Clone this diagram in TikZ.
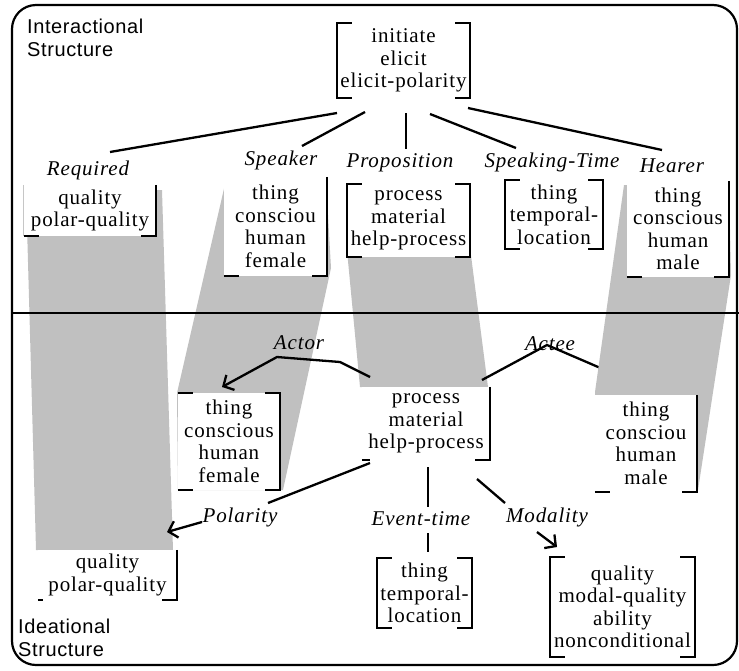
\documentclass[tikz,border=0pt]{standalone}
\usepackage{fontspec}
\setmainfont{Liberation Serif}[LetterSpace=4]
\setsansfont{Liberation Sans}[LetterSpace=3]
\usetikzlibrary{calc,arrows.meta}
\definecolor{bandgray}{RGB}{192,192,192}
\pgfdeclarelayer{lower}
\pgfdeclarelayer{mid}
\pgfdeclarelayer{upper}
\pgfsetlayers{lower,mid,upper,main}

% bracket pieces drawn on the border of a named box
\newcommand\BrLeft[1]{\draw[bracketline] ($(#1.north west)+(15,0)$) -- (#1.north west) -- (#1.south west) -- ($(#1.south west)+(15,0)$);}
\newcommand\BrRight[1]{\draw[bracketline] ($(#1.north east)+(-15,0)$) -- (#1.north east) -- (#1.south east) -- ($(#1.south east)+(-15,0)$);}
\newcommand\BrRightOpen[1]{\draw[bracketline] (#1.north east) -- (#1.south east) -- ($(#1.south east)+(-15,0)$);}
\newcommand\BrFootL[2][15]{\draw[bracketline] (#2.south west) -- ($(#2.south west)+(#1,0)$);}
\newcommand\BrHeadL[1]{\draw[bracketline] (#1.north west) -- ($(#1.north west)+(15,0)$);}

\begin{document}
\begin{tikzpicture}[x=1pt,y=-1pt,
  boxnode/.style={fill=white, inner sep=0pt, align=center, font=\fontsize{21}{22.5}\selectfont},
  rolelabel/.style={inner sep=0pt, text height=14pt, text depth=4pt, font=\fontsize{21}{22}\selectfont\itshape},
  partlabel/.style={inner sep=0pt, align=left, anchor=north west, font=\fontsize{20}{23}\selectfont\sffamily},
  linkline/.style={line width=2.3pt},
  arrowend/.style={-{Straight Barb[length=8pt,width=17pt]}},
  bracketline/.style={line width=2.3pt},
  bandfill/.style={fill=bandgray},
]
\useasboundingbox (0,0) rectangle (739,670);

% outer frame and the split between the two structures
\draw[line width=2.2pt, rounded corners=24pt] (12,5) rectangle (737,665);
\draw[line width=2pt] (12,313) -- (739,313);

% feature boxes
\node[boxnode, minimum width=133pt, minimum height=75pt] (act) at (403.5,60.5) {initiate\\elicit\\elicit-polarity};
\node[boxnode, minimum width=132pt, minimum height=51pt] (req) at (90,210.5) {quality\\polar-quality};
\node[boxnode, minimum width=103pt, minimum height=99pt] (spk) at (275.5,226.5) {thing\\consciou\\human\\female};
\node[boxnode, minimum width=123pt, minimum height=73pt] (prop) at (408.5,220.5) {process\\material\\help-process};
\node[boxnode, minimum width=98pt, minimum height=69pt] (st) at (554,214.5) {thing\\temporal-\\location};
\node[boxnode, minimum width=102pt, minimum height=96pt] (hear) at (678,229) {thing\\conscious\\human\\male};
\node[boxnode, minimum width=102pt, minimum height=97pt] (fem) at (229,441.5) {thing\\conscious\\human\\female};
\node[boxnode, minimum width=128pt, minimum height=73pt] (proc) at (426,423.5) {process\\material\\help-process};
\node[boxnode, minimum width=102pt, minimum height=97pt] (male) at (646,443.5) {thing\\consciou\\human\\male};
\node[boxnode, minimum width=139pt, minimum height=50pt] (qual) at (107.5,575) {quality\\polar-quality};
\node[boxnode, minimum width=95pt, minimum height=70pt] (temp) at (424.5,593) {thing\\temporal-\\location};
\node[boxnode, minimum width=145pt, minimum height=100pt] (modal) at (622.5,607) {quality\\modal-quality\\ability\\nonconditional};

% role labels
\node[rolelabel] (lreq) at (88,170) {Required};
\node[rolelabel] (lspk) at (281,160) {Speaker};
\node[rolelabel] (lprop) at (400,162) {Proposition};
\node[rolelabel] (lst) at (552,162) {Speaking-Time};
\node[rolelabel] (lhear) at (672,167) {Hearer};
\node[rolelabel] (lactor) at (299,344) {Actor};
\node[rolelabel] (lactee) at (550,345) {Actee};
\node[rolelabel] (lpol) at (240,517) {Polarity};
\node[rolelabel] (levt) at (421,520) {Event-time};
\node[rolelabel] (lmod) at (547,517) {Modality};

% structure names
\node[partlabel] (tophead) at (27,19) {Interactional\\Structure};
\node[partlabel] (bothead) at (18,619) {Ideational\\Structure};

% brackets
\BrLeft{act} \BrRight{act}
\draw[gray!45, line width=0.8pt] (req.north west) -- (req.south west);
\BrFootL{req} \BrRightOpen{req}
\BrFootL{spk} \BrRightOpen{spk}
\BrLeft{prop} \BrRight{prop}
\BrLeft{st} \BrRight{st}
\BrFootL{hear} \BrRightOpen{hear}
\BrHeadL{fem} \BrFootL{fem} \BrRight{fem}
\BrFootL[8]{proc} \BrRightOpen{proc}
\BrFootL{male} \BrRightOpen{male}
\BrFootL[5]{qual} \BrRightOpen{qual}
\BrLeft{temp} \BrRight{temp}
\BrLeft{modal} \BrRight{modal}

% shaded correspondences between the two structures
\begin{pgfonlayer}{lower}
\fill[bandfill] (26,190) -- (162,190) -- (173,550) -- (36,550) -- cycle;
\fill[bandfill] (226,180) -- (326,180) -- (331,268) -- (283,490) -- (178,490) -- (177,393) -- cycle;
\fill[bandfill] (346,240) -- (469,240) -- (488,387) -- (360,387) -- cycle;
\end{pgfonlayer}
\begin{pgfonlayer}{upper}
\fill[bandfill] (624,185) -- (729,185) -- (731,275) -- (698,490) -- (596,490) -- (595,392) -- cycle;
\end{pgfonlayer}

% role connectors
\begin{pgfonlayer}{mid}
\draw[linkline] ($(act)+(-66.5,52.5)$) -- ($(lreq)+(22,-18)$);
\draw[linkline] ($(act)+(-38.5,51.5)$) -- ($(lspk)+(21,-14)$);
\draw[linkline] ($(act)+(2.5,52.5)$) -- ($(lprop)+(6,-13)$);
\draw[linkline] ($(act)+(26.5,53.5)$) -- ($(lst)+(-36,-14)$);
\draw[linkline] ($(act)+(64.5,47.5)$) -- ($(lhear)+(-10,-17)$);

\draw[linkline, arrowend] ($(proc)+(-56,-46.5)$) -- ($(lactor)+(41,18)$) -- ($(lactor)+(-22,13)$) -- ($(fem)+(-7,-54.5)$);
\draw[linkline, arrowend] ($(proc)+(56,-43.5)$) -- ($(lactee)+(-3,0)$) -- ($(male)+(-6,-58.5)$);
\draw[linkline] ($(proc)+(-56,39.5)$) -- ($(lpol)+(28,-14)$);
\draw[linkline, arrowend] ($(lpol)+(-38,5)$) -- ($(qual)+(59.5,-43)$);
\draw[linkline] ($(proc)+(2,43.5)$) -- ($(levt)+(7,-13)$);
\draw[linkline] ($(levt)+(7,13)$) -- ($(temp)+(3.5,-41)$);
\draw[linkline] ($(proc)+(51,55.5)$) -- ($(lmod)+(-42,-14)$);
\draw[linkline, arrowend] ($(lmod)+(-10,15)$) -- ($(modal)+(-65.5,-60)$);
\end{pgfonlayer}
\end{tikzpicture}
\end{document}
